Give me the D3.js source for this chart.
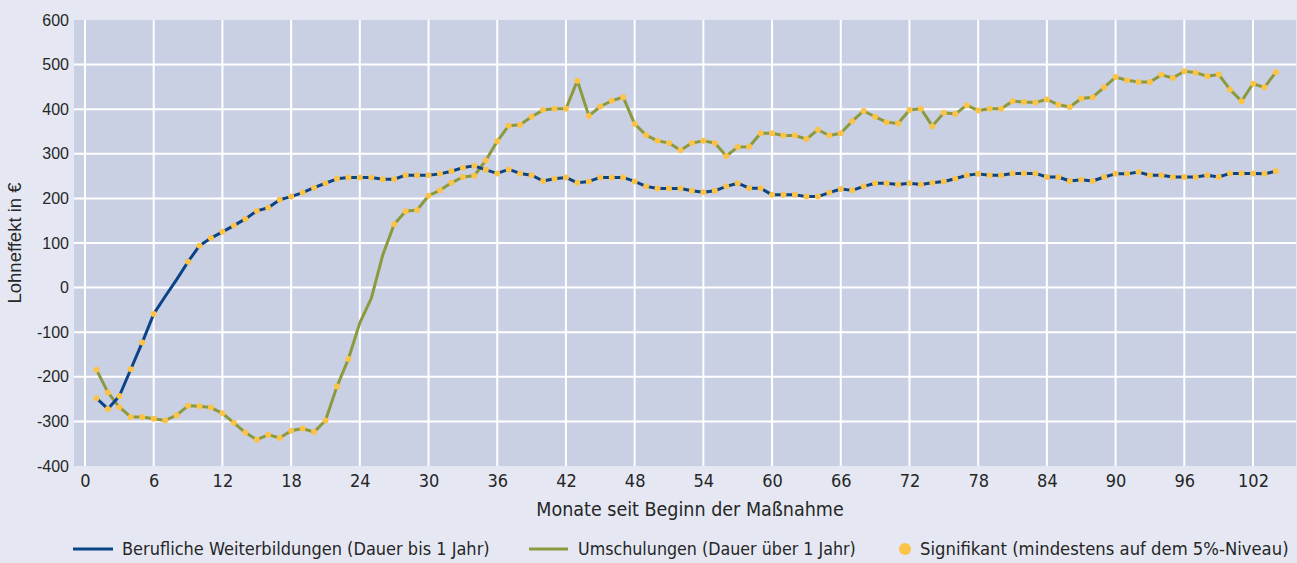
<!DOCTYPE html>
<html>
<head>
<meta charset="utf-8">
<script src="https://cdn.jsdelivr.net/npm/d3@7"></script>
<style>
  html, body { margin: 0; padding: 0; background: #e5e8f3; }
  svg { display: block; }
  .narrow { font-family: "Liberation Sans Narrow", "DejaVu Sans Condensed", "Liberation Sans", sans-serif; }
</style>
</head>
<body>
<svg id="chart" width="1297" height="563"></svg>
<script>
// ---------- DATA ----------
const months = d3.range(1, 105);
const weiterbildung = [
  -248, -272, -243, -183, -123, -59, -20, 18, 58, 94,
  111, 125, 139, 154, 172, 179, 197, 204, 213, 224,
  234, 244, 247, 247, 247, 243, 243, 252, 252, 252,
  255, 261, 269, 273, 264, 256, 265, 256, 252, 239,
  244, 247, 235, 238, 247, 247, 247, 238, 227, 222,
  222, 222, 217, 214, 217, 227, 234, 223, 223, 208,
  208, 208, 204, 204, 213, 221, 218, 227, 234, 234,
  231, 234, 231, 235, 238, 244, 252, 255, 252, 252,
  256, 256, 256, 248, 248, 239, 242, 239, 248, 255,
  255, 259, 252, 252, 248, 248, 248, 252, 248, 256,
  256, 256, 255, 261
];
const umschulung = [
  -184, -235, -268, -290, -290, -294, -298, -286, -265, -266,
  -269, -282, -303, -325, -341, -330, -337, -321, -316, -324,
  -298, -222, -160, -79, -24, 73, 142, 171, 174, 206,
  218, 235, 248, 251, 285, 328, 363, 365, 383, 398,
  401, 401, 464, 385, 406, 419, 427, 367, 342, 329,
  324, 308, 324, 329, 324, 295, 315, 316, 346, 346,
  341, 341, 333, 354, 341, 346, 373, 396, 383, 371,
  368, 398, 401, 362, 392, 389, 409, 397, 401, 401,
  418, 416, 415, 422, 410, 405, 424, 427, 449, 472,
  465, 461, 461, 477, 470, 485, 482, 474, 478, 444,
  418, 457, 449, 483
];
// months that are NOT significant
const weiterbildungNotSig = [7, 8];
const umschulungNotSig = [24, 25, 26];

const xTicks = d3.range(0, 103, 6);
const yTicks = d3.range(-400, 601, 100);

const seriesNames = [
  "Berufliche Weiterbildungen (Dauer bis 1 Jahr)",
  "Umschulungen (Dauer über 1 Jahr)",
  "Signifikant (mindestens auf dem 5%-Niveau)"
];
const yTitle = "Lohneffekt in €";
const xTitle = "Monate seit Beginn der Maßnahme";

// ---------- STYLE ----------
const colBlue = "#0b4486";
const colOlive = "#8b9a3e";
const colDot = "#fcc346";
const colPlot = "#cad0e4";
const colText = "#262626";

// ---------- LAYOUT ----------
const svg = d3.select("#chart");
const plotLeft = 74, plotRight = 1296, plotTop = 20, plotBottom = 466;

const x = d3.scaleLinear().domain([0, 102]).range([85, 1253]);
const y = d3.scaleLinear().domain([-400, 600]).range([plotBottom, plotTop]);

svg.append("rect").attr("x", 0).attr("y", 0).attr("width", 1297).attr("height", 563).attr("fill", "#e5e8f3");
svg.append("rect")
  .attr("x", plotLeft).attr("y", plotTop)
  .attr("width", plotRight - plotLeft).attr("height", plotBottom - plotTop)
  .attr("fill", colPlot);

// grid
const grid = svg.append("g");
grid.selectAll("line.v").data(xTicks).join("line")
  .attr("x1", d => x(d)).attr("x2", d => x(d))
  .attr("y1", plotTop).attr("y2", plotBottom)
  .attr("stroke", "#ffffff").attr("stroke-width", 2);
grid.selectAll("line.h").data(yTicks.filter(d => d > -400 && d < 600)).join("line")
  .attr("x1", plotLeft).attr("x2", plotRight)
  .attr("y1", d => y(d)).attr("y2", d => y(d))
  .attr("stroke", "#ffffff").attr("stroke-width", 2);

// axes
const yAxis = svg.append("g")
  .attr("transform", `translate(${plotLeft},0)`)
  .call(d3.axisLeft(y).tickValues(yTicks).tickSize(0).tickPadding(5).tickFormat(d => String(d)));
yAxis.select(".domain").remove();
yAxis.selectAll("text")
  .attr("fill", colText)
  .style("font-family", "'Liberation Sans', Arial, sans-serif")
  .style("font-size", "16px");

const xAxis = svg.append("g")
  .attr("transform", `translate(0,${plotBottom})`)
  .call(d3.axisBottom(x).tickValues(xTicks).tickSize(0).tickPadding(8).tickFormat(d => String(d)));
xAxis.select(".domain").remove();
xAxis.selectAll("text")
  .attr("fill", colText)
  .attr("class", "narrow")
  .style("font-size", "18px");

// titles
svg.append("text")
  .attr("transform", `translate(21,243) rotate(-90)`)
  .attr("text-anchor", "middle")
  .attr("fill", colText)
  .style("font-family", "'Liberation Sans', Arial, sans-serif")
  .style("font-size", "18.5px")
  .text(yTitle);

svg.append("text")
  .attr("class", "narrow")
  .attr("x", 690).attr("y", 516)
  .attr("text-anchor", "middle")
  .attr("fill", colText)
  .style("font-size", "19.5px")
  .text(xTitle);

// lines
const rowsB = months.map((m, i) => ({ m, v: weiterbildung[i], sig: !weiterbildungNotSig.includes(m) }));
const rowsU = months.map((m, i) => ({ m, v: umschulung[i], sig: !umschulungNotSig.includes(m) }));

const line = d3.line().x(d => x(d.m)).y(d => y(d.v));

svg.append("path").datum(rowsU)
  .attr("d", line).attr("fill", "none")
  .attr("stroke", colOlive).attr("stroke-width", 3).attr("stroke-linejoin", "round");
svg.append("path").datum(rowsB)
  .attr("d", line).attr("fill", "none")
  .attr("stroke", colBlue).attr("stroke-width", 3).attr("stroke-linejoin", "round");

// significance dots
[rowsU, rowsB].forEach(rows => {
  svg.append("g").selectAll("circle").data(rows.filter(d => d.sig)).join("circle")
    .attr("cx", d => x(d.m)).attr("cy", d => y(d.v))
    .attr("r", 3).attr("fill", colDot);
});

// legend
const lg = svg.append("g");
const legY = 549;
lg.append("line").attr("x1", 73).attr("x2", 113).attr("y1", legY).attr("y2", legY)
  .attr("stroke", colBlue).attr("stroke-width", 3);
lg.append("text").attr("class", "narrow").attr("x", 122).attr("y", legY + 6)
  .attr("fill", colText).style("font-size", "18px").text(seriesNames[0]);
lg.append("line").attr("x1", 529).attr("x2", 568).attr("y1", legY).attr("y2", legY)
  .attr("stroke", colOlive).attr("stroke-width", 3);
lg.append("text").attr("class", "narrow").attr("x", 578).attr("y", legY + 6)
  .attr("fill", colText).style("font-size", "17.7px").text(seriesNames[1]);
lg.append("circle").attr("cx", 905).attr("cy", legY).attr("r", 6).attr("fill", colDot);
lg.append("text").attr("class", "narrow").attr("x", 920).attr("y", legY + 6)
  .attr("fill", colText).style("font-size", "18.3px").text(seriesNames[2]);
</script>
</body>
</html>
